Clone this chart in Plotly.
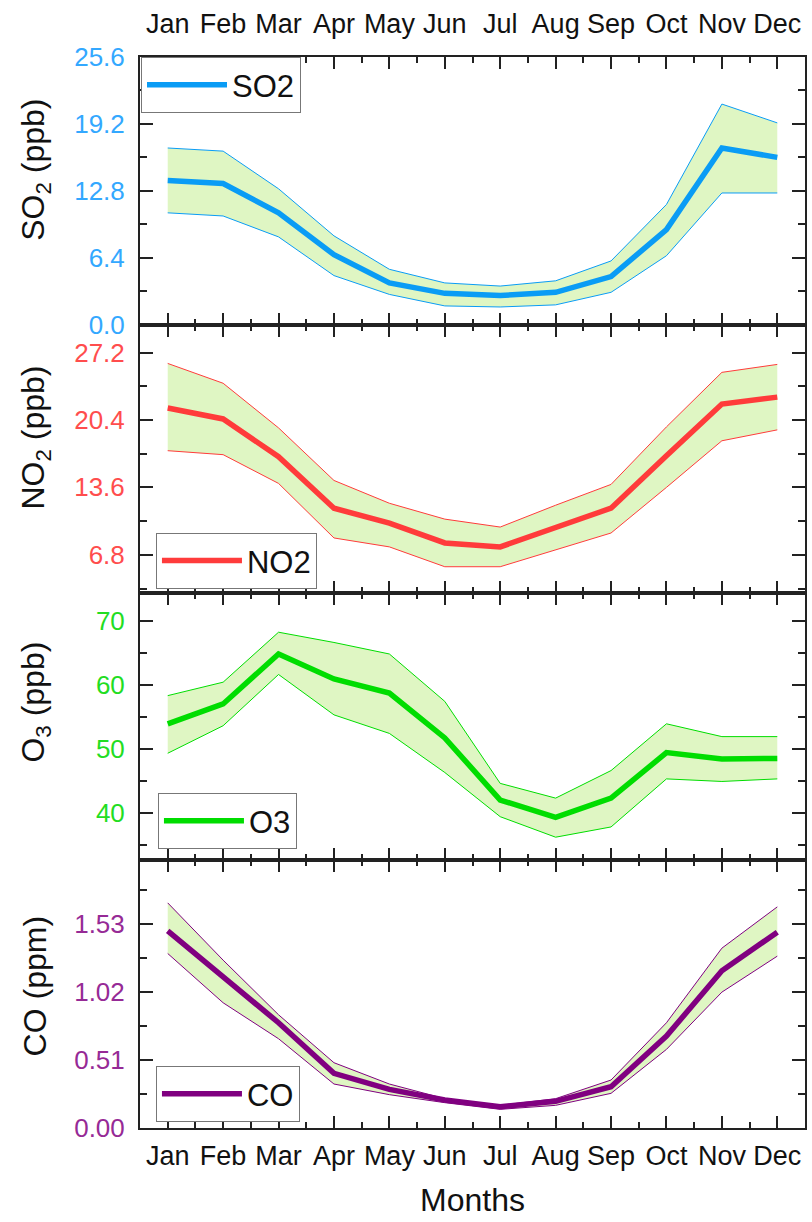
import plotly.graph_objects as go

months = ["Jan", "Feb", "Mar", "Apr", "May", "Jun", "Jul", "Aug", "Sep", "Oct", "Nov", "Dec"]

so2_mean = [13.8, 13.5, 10.7, 6.7, 4.0, 3.0, 2.8, 3.1, 4.6, 9.1, 16.9, 16.0]
so2_upper = [16.9, 16.6, 13.0, 8.5, 5.3, 4.0, 3.7, 4.2, 6.1, 11.5, 21.1, 19.3]
so2_lower = [10.7, 10.4, 8.4, 4.7, 2.9, 1.8, 1.7, 1.9, 3.1, 6.6, 12.6, 12.6]

no2_mean = [21.6, 20.5, 16.7, 11.5, 10.0, 8.0, 7.6, 9.6, 11.5, 16.8, 22.0, 22.7]
no2_upper = [26.1, 24.1, 19.6, 14.3, 12.0, 10.4, 9.6, 11.8, 13.9, 19.7, 25.2, 26.0]
no2_lower = [17.3, 16.9, 14.0, 8.5, 7.6, 5.6, 5.6, 7.3, 9.0, 13.6, 18.3, 19.4]

o3_mean = [53.9, 57.0, 64.8, 60.9, 58.7, 51.7, 42.0, 39.3, 42.3, 49.4, 48.4, 48.5]
o3_upper = [58.3, 60.4, 68.2, 66.6, 64.8, 57.4, 44.6, 42.3, 46.6, 53.9, 51.9, 51.9]
o3_lower = [49.3, 53.6, 61.6, 55.3, 52.4, 46.3, 39.4, 36.2, 37.8, 45.3, 44.9, 45.3]

co_mean = [1.48, 1.14, 0.79, 0.41, 0.29, 0.21, 0.16, 0.20, 0.31, 0.69, 1.18, 1.47]
co_upper = [1.69, 1.26, 0.85, 0.49, 0.33, 0.22, 0.17, 0.22, 0.36, 0.79, 1.35, 1.66]
co_lower = [1.31, 0.94, 0.67, 0.33, 0.25, 0.19, 0.14, 0.17, 0.26, 0.59, 1.02, 1.29]

x = list(range(len(months)))

FONT = "Arial, Liberation Sans, sans-serif"
BAND = "#DFF6C3"
AX = "#222222"

panels = [
    dict(name="SO2", title="SO<sub>2</sub> (ppb)", mean=so2_mean, up=so2_upper, lo=so2_lower,
         color="#0A9CF5", tcolor="#33A8FF", rng=[-0.0005, 25.6005], tick0=0, dtick=6.4, mdtick=3.2, fmt=".1f",
         leg=dict(x=0.0015, y=1.0), ty=0.58),
    dict(name="NO2", title="NO<sub>2</sub> (ppb)", mean=no2_mean, up=no2_upper, lo=no2_lower,
         color="#FF3B3B", tcolor="#FF4D4D", rng=[3.0, 30.0], tick0=0, dtick=6.8, mdtick=3.4, fmt=".1f",
         leg=dict(x=0.024, y=0.5556), ty=0.58),
    dict(name="O3", title="O<sub>3</sub> (ppb)", mean=o3_mean, up=o3_upper, lo=o3_lower,
         color="#00DD00", tcolor="#22DD22", rng=[32.6, 74.4], tick0=0, dtick=10, mdtick=5, fmt="d",
         leg=dict(x=0.027, y=0.3128), ty=0.59),
    dict(name="CO", title="CO (ppm)", mean=co_mean, up=co_upper, lo=co_lower,
         color="#800080", tcolor="#962A96", rng=[-0.0002, 2.01], tick0=0, dtick=0.51, mdtick=0.255, fmt=".2f",
         leg=dict(x=0.024, y=0.0579), ty=0.53),
]

fig = go.Figure()
n = len(panels)
layout = dict(
    width=812, height=1222,
    margin=dict(l=140, r=5, t=57, b=94),
    paper_bgcolor="white", plot_bgcolor="white",
    font=dict(family=FONT, color="#111111"),
    annotations=[],
)

for i, p in enumerate(panels):
    k = "" if i == 0 else str(i + 1)
    xa, ya = "x" + k, "y" + k
    lg = "legend" + k
    fig.add_trace(go.Scatter(x=x, y=p["up"], xaxis=xa, yaxis=ya, mode="lines",
                             line=dict(color=p["color"], width=1), showlegend=False, hoverinfo="skip"))
    fig.add_trace(go.Scatter(x=x, y=p["lo"], xaxis=xa, yaxis=ya, mode="lines", fill="tonexty",
                             fillcolor=BAND, line=dict(color=p["color"], width=1), showlegend=False,
                             hoverinfo="skip"))
    fig.add_trace(go.Scatter(x=x, y=p["mean"], xaxis=xa, yaxis=ya, mode="lines", name=p["name"],
                             line=dict(color=p["color"], width=5.5), legend=lg, showlegend=True))
    top = 1 - i / n
    bot = 1 - (i + 1) / n
    xaxis = dict(
        anchor=ya, domain=[0, 1], range=[-0.5, 11.5],
        tickmode="array", tickvals=x, ticktext=months,
        ticks="inside", ticklen=12, tickwidth=2, tickcolor=AX,
        minor=dict(ticks="inside", ticklen=6, tickwidth=2, tickcolor=AX, tick0=0.5, dtick=1),
        showline=True, linecolor=AX, linewidth=2, mirror="allticks",
        showgrid=False, zeroline=False,
        tickfont=dict(size=27, family=FONT, color="#111111"),
        showticklabels=(i == 0 or i == n - 1),
        side="top" if i == 0 else "bottom",
        ticklabelstandoff=11 if i == 0 else 3,
    )
    if i > 0:
        xaxis["matches"] = "x"
    yaxis = dict(
        anchor=xa, domain=[bot, top], range=p["rng"],
        tickmode="linear", tick0=p["tick0"], dtick=p["dtick"], tickformat=p["fmt"],
        ticks="inside", ticklen=13, tickwidth=2, tickcolor=AX,
        minor=dict(ticks="inside", ticklen=7, tickwidth=2, tickcolor=AX, tick0=0, dtick=p["mdtick"]),
        showline=True, linecolor=AX, linewidth=2, mirror="allticks",
        showgrid=False, zeroline=False,
        tickfont=dict(size=26, family=FONT, color=p["tcolor"]),
        ticklabelstandoff=8,
    )
    layout["xaxis" + k] = xaxis
    layout["yaxis" + k] = yaxis
    layout[lg] = dict(
        x=p["leg"]["x"], y=p["leg"]["y"], xref="paper", yref="paper",
        xanchor="left", yanchor="top",
        bgcolor="white", bordercolor="#777777", borderwidth=1,
        font=dict(size=31, family=FONT, color="#111111"),
        itemwidth=80,
    )
    layout["annotations"].append(dict(
        text=p["title"], xref="paper", yref="paper",
        x=-105 / 667, y=bot + (top - bot) * p["ty"],
        xanchor="center", yanchor="middle", textangle=-90, showarrow=False,
        font=dict(size=32, family=FONT, color="#111111"),
    ))

layout["annotations"].append(dict(
    text="Months", xref="paper", yref="paper", x=0.5, y=-72 / 1071,
    xanchor="center", yanchor="middle", showarrow=False,
    font=dict(size=32, family=FONT, color="#111111"),
))

fig.update_layout(**layout)
fig.write_html("out.html")
